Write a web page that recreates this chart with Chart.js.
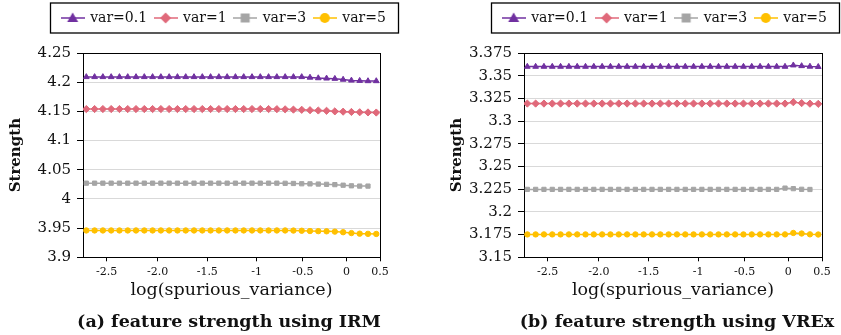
<!DOCTYPE html>
<html>
<head>
<meta charset="utf-8">
<script src="https://cdn.jsdelivr.net/npm/chart.js@4.4.1/dist/chart.umd.min.js"></script>
<style>
	html, body { margin: 0; padding: 0; background: #fff; }
	#wrap { position: relative; width: 841px; height: 335px; }
	.panel { position: absolute; top: 0; height: 335px; }
</style>
</head>
<body>
<div id="wrap">
	<div class="panel" style="left:0;width:420px"><canvas id="irm" width="420" height="335"></canvas></div>
	<div class="panel" style="left:420px;width:421px"><canvas id="vrex" width="421" height="335"></canvas></div>
</div>
<script>
// sample index along the variance sweep
const steps = [0, 1, 2, 3, 4, 5, 6, 7, 8, 9, 10, 11, 12, 13, 14, 15, 16, 17, 18, 19, 20, 21, 22, 23, 24, 25, 26, 27, 28, 29, 30, 31, 32, 33, 34, 35];

// where the log(spurious_variance) labels sit on the sweep
const tickPos = [2.45, 8.6, 14.6, 20.55, 26.15, 31.4, 35.45];
const tickLabels = ["-2.5", "-2.0", "-1.5", "-1", "-0.5", "0", "0.5"];

const seriesNames = ["var=0.1", "var=1", "var=3", "var=5"];

// (a) IRM
const irmVar01 = [4.209, 4.209, 4.209, 4.209, 4.209, 4.209, 4.209, 4.209, 4.209, 4.209, 4.209, 4.209, 4.209, 4.209, 4.209, 4.209, 4.209, 4.209, 4.209, 4.209, 4.209, 4.209, 4.209, 4.209, 4.209, 4.209, 4.209, 4.208, 4.207, 4.2065, 4.206, 4.2045, 4.203, 4.2025, 4.202, 4.202];
const irmVar1 = [4.154, 4.154, 4.154, 4.154, 4.154, 4.154, 4.154, 4.154, 4.154, 4.154, 4.154, 4.154, 4.154, 4.154, 4.154, 4.154, 4.154, 4.154, 4.154, 4.154, 4.154, 4.154, 4.154, 4.1538, 4.1535, 4.153, 4.1527, 4.152, 4.1515, 4.151, 4.15, 4.1495, 4.149, 4.1485, 4.1482, 4.148];
const irmVar3 = [4.027, 4.027, 4.027, 4.027, 4.027, 4.027, 4.027, 4.027, 4.027, 4.027, 4.027, 4.027, 4.027, 4.027, 4.027, 4.027, 4.027, 4.027, 4.027, 4.027, 4.027, 4.027, 4.027, 4.027, 4.0268, 4.0265, 4.026, 4.0258, 4.0255, 4.025, 4.0245, 4.0235, 4.0225, 4.022, 4.022];
const irmVar5 = [3.946, 3.946, 3.946, 3.946, 3.946, 3.946, 3.946, 3.946, 3.946, 3.946, 3.946, 3.946, 3.946, 3.946, 3.946, 3.946, 3.946, 3.946, 3.946, 3.946, 3.946, 3.946, 3.946, 3.946, 3.946, 3.9458, 3.9455, 3.945, 3.9448, 3.9445, 3.944, 3.943, 3.9415, 3.9405, 3.9402, 3.94];

// (b) VREx
const vrexVar01 = [3.36, 3.36, 3.36, 3.36, 3.36, 3.36, 3.36, 3.36, 3.36, 3.36, 3.36, 3.36, 3.36, 3.36, 3.36, 3.36, 3.36, 3.36, 3.36, 3.36, 3.36, 3.36, 3.36, 3.36, 3.36, 3.36, 3.36, 3.36, 3.36, 3.36, 3.36, 3.36, 3.3615, 3.3607, 3.3601, 3.3598];
const vrexVar1 = [3.3193, 3.3193, 3.3193, 3.3193, 3.3193, 3.3193, 3.3193, 3.3193, 3.3193, 3.3193, 3.3193, 3.3193, 3.3193, 3.3193, 3.3193, 3.3193, 3.3193, 3.3193, 3.3193, 3.3193, 3.3193, 3.3193, 3.3193, 3.3193, 3.3193, 3.3193, 3.3193, 3.3193, 3.3193, 3.3193, 3.3193, 3.3193, 3.3208, 3.3198, 3.3192, 3.319];
const vrexVar3 = [3.2248, 3.2248, 3.2248, 3.2248, 3.2248, 3.2248, 3.2248, 3.2248, 3.2248, 3.2248, 3.2248, 3.2248, 3.2248, 3.2248, 3.2248, 3.2248, 3.2248, 3.2248, 3.2248, 3.2248, 3.2248, 3.2248, 3.2248, 3.2248, 3.2248, 3.2248, 3.2248, 3.2248, 3.2248, 3.2248, 3.2248, 3.2262, 3.2256, 3.2249, 3.2247];
const vrexVar5 = [3.1752, 3.1752, 3.1752, 3.1752, 3.1752, 3.1752, 3.1752, 3.1752, 3.1752, 3.1752, 3.1752, 3.1752, 3.1752, 3.1752, 3.1752, 3.1752, 3.1752, 3.1752, 3.1752, 3.1752, 3.1752, 3.1752, 3.1752, 3.1752, 3.1752, 3.1752, 3.1752, 3.1752, 3.1752, 3.1752, 3.1752, 3.1752, 3.1768, 3.1762, 3.1753, 3.1751];

const FONT = "'DejaVu Serif', 'Liberation Serif', serif";
const INK = "#111";

const looks = [
	{ color: "#7030A0", point: "triangle", radius: 3.3 },
	{ color: "#E0697A", point: "rectRot", radius: 3.6 },
	{ color: "#A5A5A5", point: "rect", radius: 3 },
	{ color: "#FFC000", point: "circle", radius: 2.7 },
];

// legend symbol: short line with the marker in the middle
function makeSymbol(look) {
	const c = document.createElement("canvas");
	c.width = 24;
	c.height = 14;
	const g = c.getContext("2d");
	g.strokeStyle = look.color;
	g.fillStyle = look.color;
	g.lineWidth = 1.5;
	g.beginPath();
	g.moveTo(0, 7);
	g.lineTo(24, 7);
	g.stroke();
	g.beginPath();
	if (look.point === "triangle") {
		g.moveTo(12, 1.5);
		g.lineTo(17.5, 11);
		g.lineTo(6.5, 11);
	} else if (look.point === "rectRot") {
		g.moveTo(12, 1.5);
		g.lineTo(17.5, 7);
		g.lineTo(12, 12.5);
		g.lineTo(6.5, 7);
	} else if (look.point === "rect") {
		g.rect(7.5, 2.5, 9, 9);
	} else {
		g.arc(12, 7, 5, 0, Math.PI * 2);
	}
	g.closePath();
	g.fill();
	return c;
}
const symbols = looks.map(makeSymbol);

// moves legend / caption to where they sit in the figure, draws the frames
const panelPlugin = {
	id: "panel",
	afterUpdate(chart, args, opts) {
		const lg = chart.legend;
		const hb = lg.legendHitBoxes;
		const l = Math.min(...hb.map((b) => b.left));
		const r = Math.max(...hb.map((b) => b.left + b.width));
		const dx = opts.legendX - (l + r) / 2;
		const dy = opts.legendY - (hb[0].top + hb[0].height / 2);
		lg.left += dx;
		lg.right += dx;
		lg.top += dy;
		lg.bottom += dy;
		hb.forEach((b) => {
			b.left += dx;
			b.top += dy;
		});
		const tb = chart.titleBlock;
		const tx = opts.titleX - (tb.left + tb.right) / 2;
		tb.left += tx;
		tb.right += tx;
	},
	beforeDatasetsDraw(chart) {
		const { ctx, chartArea: a } = chart;
		ctx.save();
		ctx.strokeStyle = "#000";
		ctx.lineWidth = 1;
		ctx.strokeRect(Math.round(a.left) + 0.5, Math.round(a.top) + 0.5, Math.round(a.right - a.left), Math.round(a.bottom - a.top));
		ctx.restore();
	},
	afterDraw(chart, args, opts) {
		const hb = chart.legend.legendHitBoxes;
		const l = Math.min(...hb.map((b) => b.left)) - opts.boxPad;
		const r = Math.min(Math.max(...hb.map((b) => b.left + b.width)) + opts.boxPad, chart.width - 1);
		const { ctx } = chart;
		ctx.save();
		ctx.strokeStyle = "#000";
		ctx.lineWidth = 1.3;
		ctx.strokeRect(Math.round(l) + 0.5, opts.legendY - 15, Math.round(r - l), 30);
		ctx.restore();
	},
};

function drawPanel(id, series, caption, yMin, yMax, yStep, layout) {
	const ctx = document.getElementById(id);

	const data = {
		labels: steps,
		datasets: series.map((values, i) => ({
			label: seriesNames[i],
			data: values,
			borderColor: looks[i].color,
			backgroundColor: looks[i].color,
			borderWidth: 1.5,
			pointStyle: looks[i].point,
			pointRadius: looks[i].radius,
			pointBorderWidth: 1,
			tension: 0,
		})),
	};

	const config = {
		type: "line",
		data: data,
		plugins: [panelPlugin],
		options: {
			responsive: false,
			animation: false,
			layout: {
				padding: { top: 21, left: 0, right: 0, bottom: 0 },
			},
			plugins: {
				tooltip: { enabled: false },
				legend: {
					display: true,
					position: "top",
					labels: {
						usePointStyle: true,
						pointStyleWidth: 21,
						boxHeight: 14,
						padding: 8,
						color: INK,
						font: { family: FONT, size: 14 },
						generateLabels(chart) {
							const items = Chart.defaults.plugins.legend.labels.generateLabels(chart);
							return items.map((item, i) => Object.assign(item, { pointStyle: symbols[i] }));
						},
					},
				},
				title: {
					display: true,
					position: "bottom",
					text: caption,
					color: INK,
					font: { family: FONT, size: 17.5, weight: "bold" },
					padding: { top: 6, bottom: 2.5 },
				},
				panel: {
					legendX: layout.legendX,
					legendY: 18,
					titleX: layout.titleX,
					boxPad: 12,
				},
			},
			scales: {
				x: {
					type: "linear",
					min: -0.4,
					max: 35.45,
					afterBuildTicks(scale) {
						scale.ticks = tickPos.map((v) => ({ value: v }));
					},
					ticks: {
						autoSkip: false,
						maxRotation: 0,
						padding: 4.5,
						color: INK,
						font: { family: FONT, size: 11 },
						callback: (v, i) => tickLabels[i],
					},
					grid: {
						drawOnChartArea: false,
						drawTicks: true,
						tickLength: 4,
						tickColor: "#000",
					},
					border: { color: "#000" },
					title: {
						display: true,
						text: "log(spurious_variance)",
						color: INK,
						font: { family: FONT, size: 17.5 },
						padding: { top: -4, bottom: 5 },
					},
				},
				y: {
					min: yMin,
					max: yMax,
					afterFit(scale) {
						scale.width = layout.leftGap;
					},
					ticks: {
						stepSize: yStep,
						padding: 6,
						color: INK,
						font: { family: FONT, size: 15 },
						callback: (v) => String(+v.toFixed(3)),
					},
					grid: {
						color: "#D9D9D9",
						tickColor: "#000",
						tickLength: 6,
					},
					border: { color: "#000" },
					title: {
						display: true,
						text: "Strength",
						color: INK,
						font: { family: FONT, size: 15, weight: "bold" },
						padding: { top: layout.yTitlePad, bottom: 0 },
					},
				},
				gap: {
					position: "right",
					display: true,
					afterFit(scale) {
						scale.width = layout.rightGap;
					},
					ticks: { display: false },
					grid: { display: false },
					border: { display: false },
				},
			},
		},
	};

	return new Chart(ctx, config);
}

drawPanel("irm", [irmVar01, irmVar1, irmVar3, irmVar5], "(a) feature strength using IRM", 3.9, 4.25, 0.05, {
	leftGap: 83,
	rightGap: 40,
	yTitlePad: 7,
	legendX: 224,
	titleX: 229,
});

drawPanel("vrex", [vrexVar01, vrexVar1, vrexVar3, vrexVar5], "(b) feature strength using VREx", 3.15, 3.375, 0.025, {
	leftGap: 104,
	rightGap: 19,
	yTitlePad: 28,
	legendX: 245,
	titleX: 257,
});
</script>
</body>
</html>
